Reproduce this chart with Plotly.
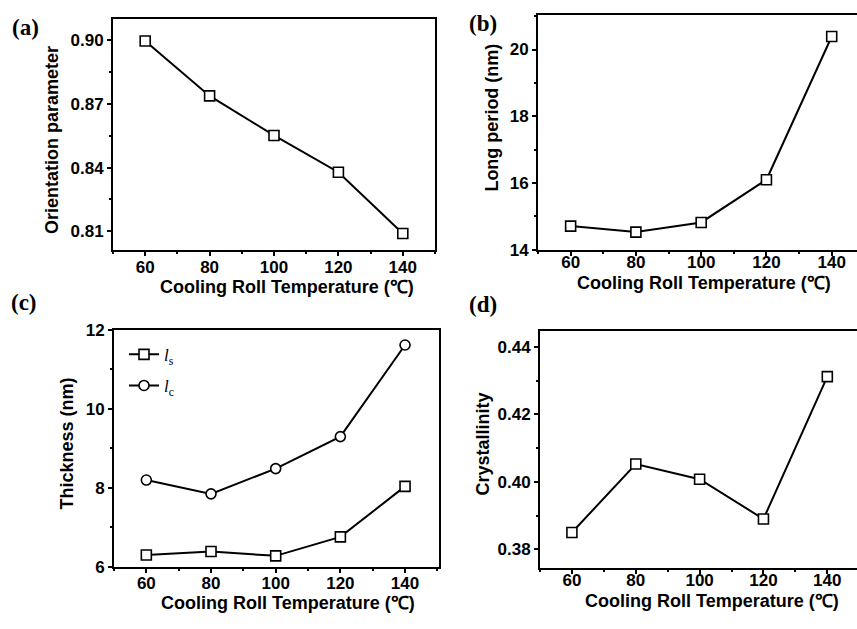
import plotly.graph_objects as go

# Cooling roll temperature (°C), shared by all four panels
temperature = [60, 80, 100, 120, 140]

# (a) orientation parameter
orientation = [0.8995, 0.8737, 0.8551, 0.8378, 0.8090]
# (b) long period, nm
long_period = [14.71, 14.53, 14.82, 16.10, 20.39]
# (c) lamellar thickness, nm
thickness_ls = [6.30, 6.39, 6.28, 6.76, 8.04]
thickness_lc = [8.20, 7.85, 8.49, 9.30, 11.62]
# (d) crystallinity
crystallinity = [0.3850, 0.4053, 0.4008, 0.3890, 0.4312]

W, H = 857, 629
TITLE_FONT = dict(family="Liberation Sans", size=18, color="black", weight="bold")
TICK_FONT = dict(family="Liberation Sans", size=17, color="black", weight="bold")
X_TITLE = "Cooling Roll Temperature (℃)"


def px_x(v):
    return v / W


def px_y(v):
    return 1 - v / H


def line_trace(x, y, symbol, xa, ya, name=None, show=False):
    return go.Scatter(
        x=x, y=y, mode="lines+markers", name=name, showlegend=show,
        legendgroup=name, xaxis=xa, yaxis=ya,
        line=dict(color="black", width=2),
        marker=dict(symbol=symbol, size=10, color="white",
                    line=dict(color="black", width=1.6)),
    )


fig = go.Figure()
fig.add_trace(line_trace(temperature, orientation, "square", "x", "y"))
fig.add_trace(line_trace(temperature, long_period, "square", "x2", "y2"))
fig.add_trace(line_trace(temperature, thickness_ls, "square", "x3", "y3",
                         name="<i>l</i><sub>s</sub>", show=True))
fig.add_trace(line_trace(temperature, thickness_lc, "circle", "x3", "y3",
                         name="<i>l</i><sub>c</sub>", show=True))
fig.add_trace(line_trace(temperature, crystallinity, "square", "x4", "y4"))


def xaxis(domain, rng, anchor, standoff):
    return dict(
        domain=domain, range=rng, anchor=anchor,
        tickvals=temperature, ticks="outside", ticklen=4, tickwidth=1.5,
        tickcolor="black", tickfont=TICK_FONT, ticklabelstandoff=standoff,
        minor=dict(dtick=10, tick0=50, ticks="outside", ticklen=2, tickcolor="black"),
        showline=True, linecolor="black", linewidth=2, mirror=True,
        showgrid=False, zeroline=False,
    )


def yaxis(domain, rng, anchor, dtick, tick0, minor, fmt, mirror=True):
    return dict(
        domain=domain, range=rng, anchor=anchor,
        dtick=dtick, tick0=tick0, tickformat=fmt,
        ticks="outside", ticklen=4, tickwidth=1.5, tickcolor="black",
        tickfont=TICK_FONT,
        minor=dict(dtick=minor, ticks="outside", ticklen=2, tickcolor="black"),
        showline=True, linecolor="black", linewidth=2, mirror=mirror,
        showgrid=False, zeroline=False,
    )


fig.update_layout(
    width=W, height=H,
    margin=dict(l=0, r=0, t=0, b=0),
    paper_bgcolor="white", plot_bgcolor="white",
    xaxis=xaxis([px_x(113), px_x(435)], [50, 150], "y", -4),
    yaxis=yaxis([px_y(249), px_y(10)], [0.801, 0.910], "x", 0.03, 0.81, 0.015, ".2f"),
    xaxis2=xaxis([px_x(538), 1.0], [50, 147.75], "y2", -8),
    yaxis2=yaxis([px_y(248.3), px_y(6)], [14, 21.04], "x2", 2, 14, 1, "d", mirror=False),
    xaxis3=xaxis([px_x(114), px_x(439)], [50, 150.5], "y3", -4),
    yaxis3=yaxis([px_y(575.3), px_y(331)], [6, 12], "x3", 2, 6, 1, "d"),
    xaxis4=xaxis([px_x(540), 1.0], [50, 149.3], "y4", -8),
    yaxis4=yaxis([px_y(576), px_y(331.7)], [0.3746, 0.4448], "x4", 0.02, 0.38, 0.01, ".2f",
                 mirror=False),
    legend=dict(
        x=px_x(124), y=px_y(338), xanchor="left", yanchor="top",
        bgcolor="rgba(0,0,0,0)", borderwidth=0,
        font=dict(family="Liberation Serif", size=17, color="black"),
        itemwidth=30, tracegroupgap=6,
    ),
)

# Axis titles and panel letters
notes = [
    (52, 135, "Orientation parameter", 270, TITLE_FONT),
    (287, 287, X_TITLE, 0, TITLE_FONT),
    (492, 112, "Long period (nm)", 270, TITLE_FONT),
    (704, 283, X_TITLE, 0, TITLE_FONT),
    (67, 448, "Thickness (nm)", 270, TITLE_FONT),
    (288, 612, X_TITLE, 0, TITLE_FONT),
    (483, 449, "Crystallinity", 270, TITLE_FONT),
    (712, 610, X_TITLE, 0, TITLE_FONT),
]
letter_font = dict(family="Liberation Serif", size=23, color="black", weight="bold")
notes += [
    (25, 19, "(a)", 0, letter_font),
    (483, 15, "(b)", 0, letter_font),
    (24, 303, "(c)", 0, letter_font),
    (483, 305, "(d)", 0, letter_font),
]
for x, y, text, angle, font in notes:
    fig.add_annotation(
        x=px_x(x), y=px_y(y), xref="paper", yref="paper",
        text=text, textangle=angle, showarrow=False,
        xanchor="center", yanchor="middle", font=font,
    )

fig.write_html("out.html")
